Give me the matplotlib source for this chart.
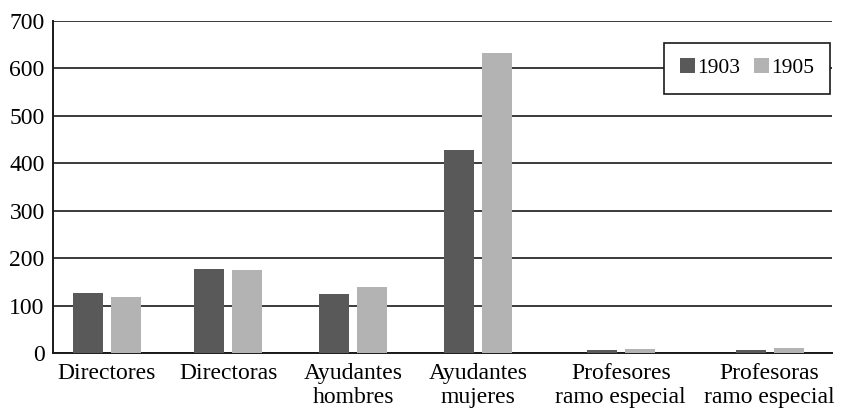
import matplotlib
matplotlib.use("Agg")
import matplotlib.pyplot as plt
import numpy as np

categories = ["Directores", "Directoras", "Ayudantes\nhombres", "Ayudantes\nmujeres",
              "Profesores\nramo especial", "Profesoras\nramo especial"]
series_names = ["1903", "1905"]
values_1903 = [127, 177, 124, 427, 6, 6]
values_1905 = [118, 175, 139, 633, 8, 11]
y_ticks = [0, 100, 200, 300, 400, 500, 600, 700]

# layout (group centres, in category-slot units)
group_x = np.array([0.0, 0.97, 1.97, 2.97, 4.11, 5.30])
bar_w = 0.24
offset = 0.152

plt.rcParams['font.family'] = ['Liberation Serif', 'DejaVu Serif']
FS = 17
FS_LEG = 15.5

fig = plt.figure(figsize=(8.43, 4.15), dpi=100)
ax = fig.add_axes([53/843, 1-353/415, (832-53)/843, (353-21)/415])

c1, c2 = "#595959", "#b3b3b3"
ax.bar(group_x - offset, values_1903, width=bar_w, color=c1, label=series_names[0], zorder=3)
ax.bar(group_x + offset, values_1905, width=bar_w, color=c2, label=series_names[1], zorder=3)

ax.set_xlim(-0.432, 5.8)
ax.set_ylim(0, 700)
ax.set_yticks(y_ticks)
ax.set_yticklabels([str(t) for t in y_ticks], fontsize=FS)
ax.set_xticks(group_x)
ax.set_xticklabels(categories, fontsize=FS, linespacing=1.2)
ax.tick_params(axis='y', length=0, pad=6)
ax.tick_params(axis='x', length=0, pad=7)

ax.grid(axis='y', color='#1a1a1a', linewidth=1.2, zorder=0)
for s in ['top', 'right']:
    ax.spines[s].set_visible(False)
for s in ['left', 'bottom']:
    ax.spines[s].set_color('#1a1a1a')
    ax.spines[s].set_linewidth(1.4)

leg = ax.legend(loc='upper right', bbox_to_anchor=(0.997, 0.934), ncol=2,
                fontsize=FS_LEG, frameon=True, fancybox=False, framealpha=1,
                edgecolor='#1a1a1a', handlelength=0.7, handleheight=0.7,
                handletextpad=0.1, columnspacing=0.65, borderpad=0.72,
                borderaxespad=0)
leg.get_frame().set_linewidth(1.2)
leg.set_zorder(5)

fig.savefig("out.png", dpi=100)
